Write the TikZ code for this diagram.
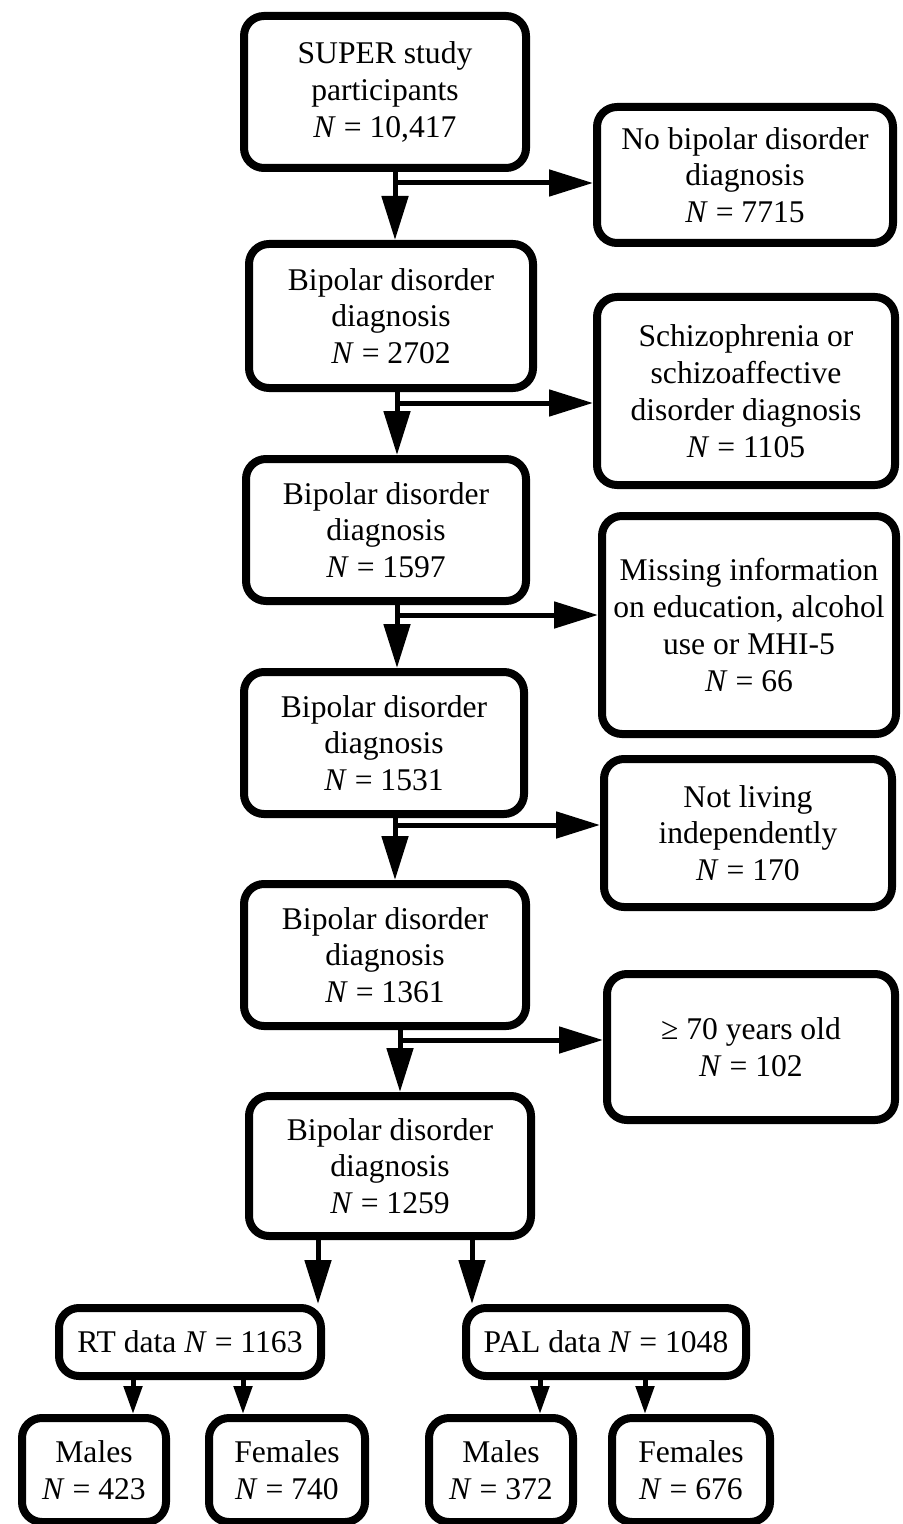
\documentclass[tikz,border=0pt]{standalone}
\usepackage{fontspec}
\setmainfont{Liberation Serif}
\usetikzlibrary{arrows.meta}

\begin{document}
\begin{tikzpicture}[x=0.5pt,y=-0.5pt,
		box/.style={draw, line width=4pt, rounded corners=10pt, align=center, inner sep=0pt,
			font=\fontsize{15.8}{18.4}\selectfont},
		arr/.style={line width=2.5pt, -{Triangle[length=22pt,width=13pt]}},
		smallarr/.style={line width=2.5pt, -{Triangle[length=14pt,width=9pt]}}]
		\useasboundingbox (0,0) rectangle (902,1524);
		% main column
		\node[box, minimum width=141pt, minimum height=76pt] (super) at (385,92) {SUPER study\\participants\\\textit{N} = 10,417};
		\node[box, minimum width=142pt, minimum height=72pt] (bp1) at (391,316) {Bipolar disorder\\diagnosis\\\textit{N} = 2702};
		\node[box, minimum width=140pt, minimum height=71pt] (bp2) at (386,530) {Bipolar disorder\\diagnosis\\\textit{N} = 1597};
		\node[box, minimum width=140pt, minimum height=71pt] (bp3) at (384,743) {Bipolar disorder\\diagnosis\\\textit{N} = 1531};
		\node[box, minimum width=141pt, minimum height=71pt] (bp4) at (385,955) {Bipolar disorder\\diagnosis\\\textit{N} = 1361};
		\node[box, minimum width=141pt, minimum height=70pt] (bp5) at (390,1166) {Bipolar disorder\\diagnosis\\\textit{N} = 1259};
		% excluded
		\node[box, minimum width=148pt, minimum height=68pt] (nobd) at (745,175) {No bipolar disorder\\diagnosis\\\textit{N} = 7715};
		\node[box, minimum width=149pt, minimum height=94pt] (schiz) at (746,391) {Schizophrenia or\\schizoaffective\\disorder diagnosis\\\textit{N} = 1105};
		\node[box, minimum width=147pt, minimum height=109pt] (miss) at (749,625) {Missing information\\on education, alcohol\\use or MHI-5\\\textit{N} = 66};
		\node[box, minimum width=144pt, minimum height=74pt] (notliv) at (748,833) {Not living\\independently\\\textit{N} = 170};
		\node[box, minimum width=144pt, minimum height=73pt] (old) at (751,1047) {≥ 70 years old\\\textit{N} = 102};
		% subsets
		\node[box, minimum width=131pt, minimum height=34pt] (rt) at (190,1342) {RT data \textit{N} = 1163};
		\node[box, minimum width=140pt, minimum height=34pt] (pal) at (606,1342) {PAL data \textit{N} = 1048};
		\node[box, minimum width=72pt, minimum height=52pt] (rtm) at (94,1470) {Males\\\textit{N} = 423};
		\node[box, minimum width=78pt, minimum height=52pt] (rtf) at (287,1470) {Females\\\textit{N} = 740};
		\node[box, minimum width=72pt, minimum height=52pt] (palm) at (501,1470) {Males\\\textit{N} = 372};
		\node[box, minimum width=79pt, minimum height=52pt] (palf) at (691,1470) {Females\\\textit{N} = 676};
		% split points
		\coordinate (s1) at (395,183);
		\coordinate (s2) at (397,403);
		\coordinate (s3) at (397,615);
		\coordinate (s4) at (395,825);
		\coordinate (s5) at (400,1040);
		\coordinate (d1) at (318,0);
		\coordinate (d2) at (472,0);
		\coordinate (d3) at (133,0);
		\coordinate (d4) at (243,0);
		\coordinate (d5) at (540,0);
		\coordinate (d6) at (645,0);
		% arrows
		\draw[arr] (super.south -| s1) -- (bp1.north -| s1);
		\draw[arr] (s1) -- (s1 -| nobd.west);
		\draw[arr] (bp1.south -| s2) -- (bp2.north -| s2);
		\draw[arr] (s2) -- (s2 -| schiz.west);
		\draw[arr] (bp2.south -| s3) -- (bp3.north -| s3);
		\draw[arr] (s3) -- (s3 -| miss.west);
		\draw[arr] (bp3.south -| s4) -- (bp4.north -| s4);
		\draw[arr] (s4) -- (s4 -| notliv.west);
		\draw[arr] (bp4.south -| s5) -- (bp5.north -| s5);
		\draw[arr] (s5) -- (s5 -| old.west);
		\draw[arr] (bp5.south -| d1) -- (rt.north -| d1);
		\draw[arr] (bp5.south -| d2) -- (pal.north -| d2);
		\draw[smallarr] (rt.south -| d3) -- (rtm.north -| d3);
		\draw[smallarr] (rt.south -| d4) -- (rtf.north -| d4);
		\draw[smallarr] (pal.south -| d5) -- (palm.north -| d5);
		\draw[smallarr] (pal.south -| d6) -- (palf.north -| d6);
	\end{tikzpicture}
\end{document}
